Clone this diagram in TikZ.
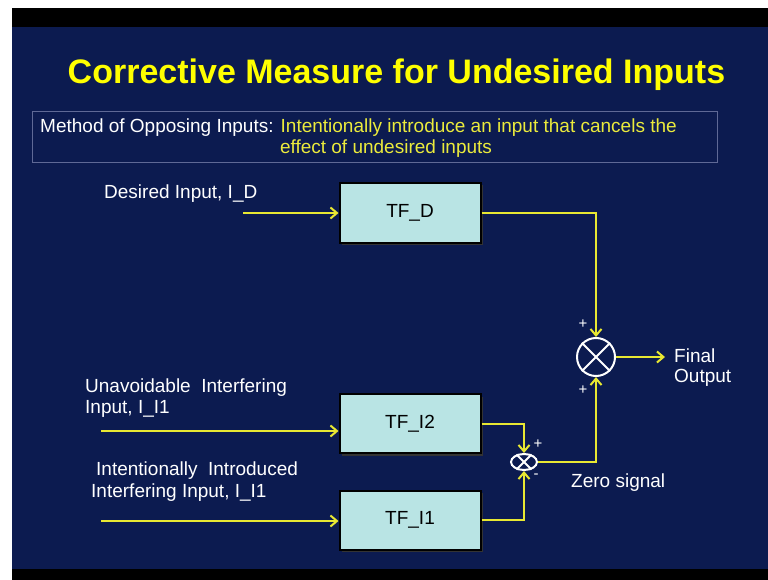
\documentclass[tikz,border=0pt]{standalone}
\usepackage{fontspec}
\setmainfont{Liberation Sans}
\usetikzlibrary{arrows.meta,shapes.geometric}
\definecolor{navy}{RGB}{12,27,80}
\definecolor{sigyellow}{RGB}{232,232,50}
\definecolor{titleyellow}{RGB}{255,255,0}
\definecolor{noteyellow}{RGB}{235,235,60}
\definecolor{boxfill}{RGB}{185,228,228}
\definecolor{noteframe}{RGB}{95,105,150}

\begin{document}
\begin{tikzpicture}[x=1pt,y=-1pt,
  lbl/.style={inner sep=0pt, anchor=base west, text=white, font=\fontsize{19}{22}\selectfont},
  tfbox/.style={draw=black, line width=2pt, fill=boxfill, minimum width=141pt, minimum height=59pt,
    inner sep=0pt, font=\fontsize{19}{22}\selectfont, text=black},
  boxshadow/.style={fill=black!80, minimum width=141pt, minimum height=59pt, inner sep=0pt},
  signal/.style={draw=sigyellow, line width=2pt, -{Straight Barb[length=6.5pt,width=11pt,line width=2pt]}},
  sign/.style={inner sep=0pt, text=white, font=\fontsize{15}{16}\selectfont},
  cross/.style={draw=white, line width=2pt}
]
% page frame
\useasboundingbox (0,0) rectangle (768,580);
\fill[white] (0,0) rectangle (768,580);
\fill[black] (12,8) rectangle (768,580);
\fill[navy] (12,27) rectangle (768,569);

% title
\node[anchor=base, inner sep=0pt, font=\bfseries\fontsize{34}{40}\selectfont, text=titleyellow] (title) at (396.5,84) {Corrective Measure for Undesired Inputs};

% note box
\node[draw=noteframe, line width=0.8pt, minimum width=685pt, minimum height=51pt, inner sep=0pt] (note) at (374.5,136.5) {};
\node[lbl] (m1) at (40,133) {Method of Opposing Inputs: \textcolor{noteyellow}{Intentionally introduce an input that cancels the}};
\node[lbl, anchor=base, text=noteyellow] (m2) at (386,154) {effect of undesired inputs};

% transfer-function blocks
\node[boxshadow] (dsh) at (412,215) {};
\node[boxshadow] (i2sh) at (412,426) {};
\node[boxshadow] (i1sh) at (412,522) {};
\node[tfbox] (d) at (410,213) {TF\_D};
\node[tfbox] (i2) at (410,423.5) {TF\_I2};
\node[tfbox] (i1) at (410,520) {TF\_I1};

% summing junctions
\node[ellipse, draw=white, line width=2pt, minimum width=26pt, minimum height=16pt, inner sep=0pt] (s1) at (524,462) {};
\draw[cross] (s1.45) -- (s1.225) (s1.135) -- (s1.315);
\node[circle, draw=white, line width=2pt, minimum size=38pt, inner sep=0pt] (s2) at (596,357) {};
\draw[cross] (s2.45) -- (s2.225) (s2.135) -- (s2.315);

% input labels
\node[lbl] (ld) at (104,199) {Desired Input, I\_D};
\node[lbl] (lu1) at (85,392) {Unavoidable\ \ Interfering};
\node[lbl] (lu2) at (85,413) {Input, I\_I1};
\node[lbl] (lt1) at (96,475) {Intentionally\ \ Introduced};
\node[lbl] (lt2) at (91,497) {Interfering Input, I\_I1};

% input arrows
\coordinate (id) at (243,213);
\coordinate (iu) at (101,431);
\coordinate (it) at (101,521);
\draw[signal] (id) -- (d.west);
\draw[signal] (iu) -- (iu -| i2.west);
\draw[signal] (it) -- (it -| i1.west);

% block outputs
\draw[signal] (i2.east) -| (s1.north);
\draw[signal] (i1.east) -| (s1.south);
\draw[signal] (s1.east) -| (s2.south);
\draw[signal] (d.east) -| (s2.north);
\coordinate (out) at (665,357);
\draw[signal] (s2.east) -- (out);

% signs
\node[sign] (p1) at (583,324) {+};
\node[sign] (p2) at (583,390) {+};
\node[sign] (p3) at (538,444) {+};
\node[sign] (p4) at (536,476) {-};

% output labels
\node[lbl] (lf1) at (674,362) {Final};
\node[lbl] (lf2) at (674,382) {Output};
\node[lbl] (lz) at (571,487) {Zero signal};
\end{tikzpicture}
\end{document}
